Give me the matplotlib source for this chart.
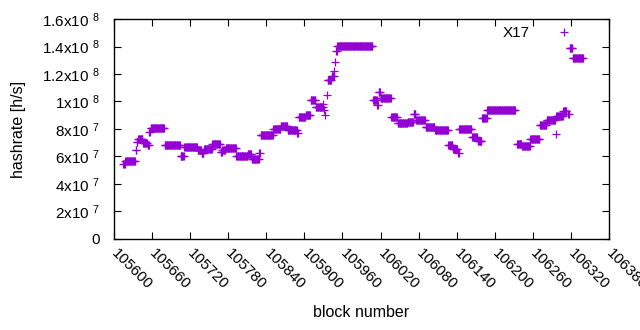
import numpy as np
import matplotlib
matplotlib.use("Agg")
import matplotlib.pyplot as plt

plt.rcParams['font.family'] = ['Liberation Sans', 'DejaVu Sans']
plt.rcParams['mathtext.fontset'] = 'custom'
plt.rcParams['mathtext.rm'] = 'Liberation Sans'
plt.rcParams['mathtext.default'] = 'regular'

# hashrate runs: first block, last block, hashrate (1e6 h/s)
run_start = [105615, 105618, 105634, 105636, 105638, 105646, 105653, 105656, 105658,
             105680, 105705, 105711, 105732, 105738, 105742, 105755, 105768, 105771,
             105776, 105793, 105800, 105811, 105817, 105829, 105831, 105851, 105863,
             105874, 105889, 105891, 105902, 105910, 105918, 105930, 105931, 105932,
             105936, 105937, 105943, 105947, 105948, 105950, 105952, 106008, 106015,
             106017, 106020, 106037, 106047, 106063, 106072, 106076, 106091, 106106,
             106127, 106134, 106142, 106144, 106164, 106173, 106180, 106188, 106235,
             106243, 106256, 106271, 106282, 106296, 106297, 106308, 106316, 106318,
             106323]
run_end = [105617, 105633, 105635, 105637, 105645, 105652, 105655, 105657, 105679,
           105704, 105710, 105731, 105737, 105741, 105754, 105767, 105770, 105775,
           105792, 105799, 105810, 105816, 105828, 105830, 105850, 105862, 105873,
           105888, 105890, 105901, 105909, 105917, 105929, 105930, 105931, 105932,
           105936, 105942, 105946, 105947, 105948, 105951, 106007, 106014, 106016,
           106019, 106036, 106046, 106062, 106071, 106075, 106090, 106105, 106126,
           106133, 106141, 106143, 106163, 106172, 106179, 106187, 106232, 106242,
           106255, 106270, 106281, 106295, 106296, 106307, 106313, 106317, 106322,
           106339]
run_value = [54.5, 56.5, 64.5, 70.5, 72.5, 70.0, 68.0, 78.0, 80.5,
             68.4, 60.5, 67.0, 64.5, 62.5, 65.5, 69.0, 63.0, 65.0,
             66.0, 60.0, 60.5, 62.0, 58.0, 62.5, 75.5, 80.0, 82.5,
             79.0, 77.0, 88.7, 90.0, 101.0, 96.0, 98.0, 94.0, 90.5,
             105.0, 115.5, 118.5, 122.0, 129.0, 136.7, 140.5, 101.0, 97.5,
             107.0, 102.5, 88.5, 84.5, 85.0, 91.0, 86.5, 81.5, 79.0,
             68.0, 65.5, 62.5, 80.0, 74.0, 71.0, 88.0, 94.0, 69.0,
             67.5, 72.5, 83.0, 86.5, 76.0, 89.5, 93.0, 91.0, 139.0,
             131.5]

y_ticks = [0, 2e7, 4e7, 6e7, 8e7, 1e8, 1.2e8, 1.4e8, 1.6e8]
y_labels = ['0', '2x10 $^{7}$', '4x10 $^{7}$', '6x10 $^{7}$', '8x10 $^{7}$',
            '1x10 $^{8}$', '1.2x10 $^{8}$', '1.4x10 $^{8}$', '1.6x10 $^{8}$']
x_ticks = list(range(105600, 106381, 60))

blocks = np.concatenate([np.arange(s, e + 1) for s, e in zip(run_start, run_end)])
rates = np.concatenate([np.full(e - s + 1, v * 1e6)
                        for s, e, v in zip(run_start, run_end, run_value)])

fig = plt.figure(figsize=(6.4, 3.3), dpi=100)
ax = fig.add_axes([0.178, 0.2758, 0.7736, 0.6666])
ax.plot(blocks, rates, '+', color='#9400D3', ms=5.2, mew=0.9, label='X17')

ax.set_xlim(105600, 106380)
ax.set_ylim(0, 1.6e8)
ax.set_yticks(y_ticks)
ax.set_yticklabels(y_labels)
ax.set_xticks(x_ticks)
ax.set_xticklabels([str(t) for t in x_ticks], rotation=-45, ha='left', va='center',
                   rotation_mode='anchor')
ax.tick_params(direction='in', length=5, width=0.8, top=True, right=True,
               labelsize=11, colors='black')
ax.tick_params(axis='x', pad=9)
ax.tick_params(axis='y', pad=10)
for s in ax.spines.values():
    s.set_linewidth(1.0)

ax.set_xlabel('block number', fontsize=11.5, labelpad=9)
ax.set_ylabel('hashrate [h/s]', fontsize=11.5, labelpad=12)
ax.legend(loc='upper right', frameon=False, markerfirst=False, fontsize=11,
          handlelength=2.5, borderaxespad=0.3, handletextpad=1.0,
          bbox_to_anchor=(0.97, 1.015))

fig.savefig('out.png', dpi=100)
